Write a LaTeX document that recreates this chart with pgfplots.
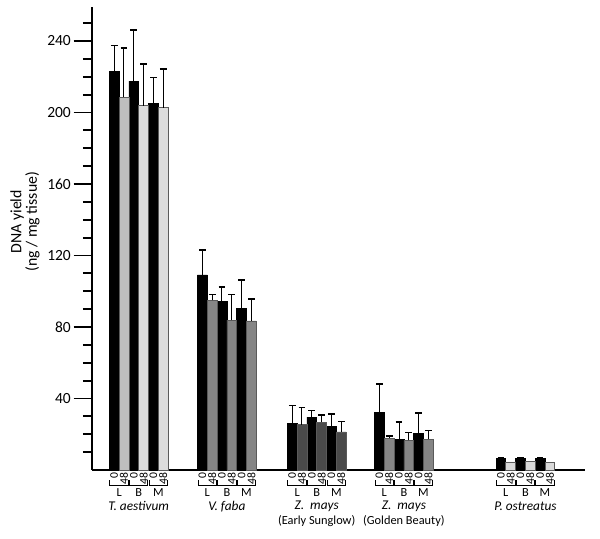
\documentclass[border=0pt]{standalone}
\usepackage{fontspec}
\setmainfont{Carlito}
\usepackage{pgfplots}
\pgfplotsset{compat=1.18}

\definecolor{lgA}{HTML}{BEBEBE}
\definecolor{lgB}{HTML}{DCDCDC}
\definecolor{mg}{HTML}{858585}
\definecolor{dg}{HTML}{4A4A4A}
\definecolor{pg}{HTML}{D9D9D9}
\definecolor{edge}{HTML}{5A5A5A}

% one pair of bars (0 h, 48 h): left edge, letter
\newcommand{\pair}[2]{%
  \draw[line width=0.6pt] (axis cs:{#1+0.6},-5.6) |- (axis cs:{#1+19.0},-8.4) -- (axis cs:{#1+19.0},-5.6);
  \node[font=\fontsize{7.4}{8}\selectfont] at (axis cs:{#1+9.8},-12.6) {#2};
  \node[font=\fontsize{7}{7}\selectfont, rotate=90, anchor=east, inner sep=0pt] at (axis cs:{#1+4.9},-1.2) {0};
  \node[font=\fontsize{7}{7}\selectfont, rotate=90, anchor=east, inner sep=0pt] at (axis cs:{#1+14.7},-1.2) {48};
}
% one species: left edge of its first bar, name, second line
\newcommand{\grp}[3]{%
  \pair{#1}{L}\pair{#1+19.6}{B}\pair{#1+39.2}{M}%
  \node[font=\fontsize{8}{9}\selectfont\itshape] at (axis cs:{#1+29.4},-20.3) {#2};
  \node[font=\fontsize{7.4}{8}\selectfont] at (axis cs:{#1+29.4},-28.6) {#3};
}

\begin{document}
\begin{tikzpicture}
\begin{axis}[
    at={(0,0)}, anchor=south west,
    scale only axis,
    width=295.8pt, height=277.8pt,
    xmin=92, xmax=585, ymin=0, ymax=259,
    axis x line*=bottom, axis y line*=left,
    axis line style={line width=1.2pt},
    clip=false,
    xtick=\empty,
    ytick={40,80,...,240},
    minor ytick={10,20,...,250},
    tick align=outside,
    major tick length=11pt, minor tick length=5.4pt,
    every tick/.style={black, line width=1.1pt},
    yticklabel style={font=\fontsize{9.3}{10}\selectfont, inner sep=1.5pt},
    /pgf/number format/assume math mode=true,
    ylabel={DNA yield\\(ng / mg tissue)},
    ylabel style={align=center, font=\fontsize{9.5}{9.4}\selectfont,
        at={(axis description cs:-0.136,0.536)}, anchor=center},
    bar width=9.8,
    error bars/y dir=plus, error bars/y explicit,
    error bars/error bar style={line width=0.6pt, black},
    error bars/error mark options={rotate=90, mark size=2pt, line width=1pt, black},
]
% 0 h, all species
\addplot[ybar, bar shift=0pt, fill=black, draw=black, line width=0.4pt]
  table[x=x, y=y, y error=e, row sep=\\] {
  x y e \\
  114.2 223.0 14.4 \\ 133.8 217.6 28.5 \\ 153.4 204.9 14.6 \\
  202.4 109.1 13.9 \\ 222.0 94.5 8.0 \\ 241.6 90.6 15.7 \\
  292.2 25.9 10.1 \\ 311.8 29.6 3.6 \\ 331.4 24.6 6.7 \\
  379.4 32.4 15.7 \\ 399.0 17.3 9.6 \\ 418.6 20.3 11.6 \\
  500.9 6.5 0.5 \\ 520.5 6.5 0.5 \\ 540.1 6.5 0.5 \\
};
% 48 h, T. aestivum L
\addplot[ybar, bar shift=0pt, fill=lgA, draw=edge, line width=0.4pt]
  table[x=x, y=y, y error=e, row sep=\\] {
  x y e \\
  124.0 208.7 27.5 \\
};
% 48 h, T. aestivum B and M
\addplot[ybar, bar shift=0pt, fill=lgB, draw=edge, line width=0.4pt]
  table[x=x, y=y, y error=e, row sep=\\] {
  x y e \\
  143.6 203.8 23.2 \\ 163.2 202.7 21.6 \\
};
% 48 h, V. faba and Z. mays (Golden Beauty)
\addplot[ybar, bar shift=0pt, fill=mg, draw=edge, line width=0.4pt]
  table[x=x, y=y, y error=e, row sep=\\] {
  x y e \\
  212.2 94.9 3.2 \\ 231.8 83.9 14.2 \\ 251.4 83.4 12.1 \\
  389.2 17.7 1.3 \\ 408.8 16.6 4.3 \\ 428.4 17.3 4.7 \\
};
% 48 h, Z. mays (Early Sunglow)
\addplot[ybar, bar shift=0pt, fill=dg, draw=edge, line width=0.4pt]
  table[x=x, y=y, y error=e, row sep=\\] {
  x y e \\
  302.0 25.4 9.5 \\ 321.6 26.7 4.2 \\ 341.2 21.3 5.9 \\
};
% 48 h, P. ostreatus
\addplot[ybar, bar shift=0pt, fill=pg, draw=edge, line width=0.4pt]
  table[x=x, y=y, row sep=\\] {
  x y \\
  510.7 4.5 \\ 530.3 4.8 \\ 549.9 4.1 \\
};

\grp{109.3}{T. aestivum}{}
\grp{197.5}{V. faba}{}
\grp{287.3}{Z.~ mays}{(Early Sunglow)}
\grp{374.5}{Z.~ mays}{(Golden Beauty)}
\grp{496.0}{P. ostreatus}{}
\end{axis}
\path (-55.2pt,-41.4pt) rectangle (304.8pt,282pt);
\end{tikzpicture}
\end{document}
